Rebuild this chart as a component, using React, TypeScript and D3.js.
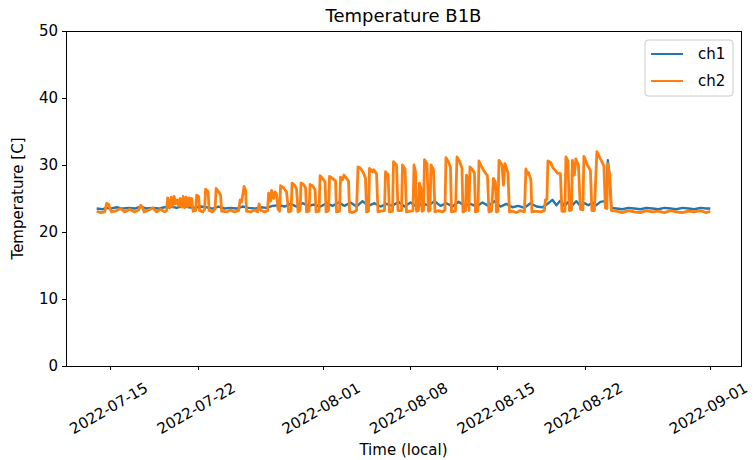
import React from 'react';
import * as d3 from 'd3';

const W = 756;
const H = 460;
const MARGIN = { top: 31, right: 15, bottom: 94, left: 66 };

// days since 2022-07-15 00:00 (local), temperature in C
const START = new Date(2022, 6, 15);

const ch1: [number, number][] = [
  [-1.12, 23.5], [-0.64, 23.4], [-0.32, 23.6], [0, 23.5], [0.48, 23.7], [0.96, 23.5], [1.44, 23.6],
  [1.92, 23.5], [2.4, 23.8], [2.88, 23.5], [3.36, 23.6], [3.84, 23.5], [4.32, 23.7], [4.8, 23.8],
  [5.28, 23.6], [5.76, 23.9], [6.24, 23.7], [6.72, 23.6], [7.2, 23.8], [7.68, 23.7], [8.16, 23.5],
  [8.64, 23.8], [9.12, 23.5], [9.6, 23.6], [10.08, 23.5], [10.56, 23.8], [11.04, 23.6], [11.52, 23.5],
  [12.0, 23.7], [12.48, 23.6], [12.96, 23.9], [13.44, 24.0], [13.92, 23.8], [14.4, 24.2], [14.88, 23.8],
  [15.36, 24.3], [15.84, 23.9], [16.32, 24.1], [16.8, 23.8], [17.28, 24.3], [17.76, 23.9], [18.24, 24.4],
  [18.72, 23.9], [19.2, 24.4], [19.68, 23.8], [20.16, 24.6], [20.64, 23.9], [21.12, 24.3], [21.6, 23.8],
  [22.08, 24.2], [22.56, 23.9], [23.04, 24.5], [23.52, 23.8], [24.0, 24.4], [24.48, 23.8], [24.96, 24.2],
  [25.44, 24.0], [25.92, 24.6], [26.4, 23.9], [26.88, 24.3], [27.36, 23.8], [27.84, 24.5], [28.32, 23.9],
  [28.8, 24.2], [29.28, 23.8], [29.76, 24.4], [30.24, 23.9], [30.72, 24.6], [31.2, 23.8], [31.68, 24.2],
  [32.16, 23.7], [32.64, 23.9], [33.12, 23.6], [33.6, 24.3], [34.08, 23.8], [34.56, 23.7], [35.04, 24.3],
  [35.36, 24.8], [35.68, 24.0], [36.0, 24.7], [36.32, 23.9], [36.64, 24.5], [36.96, 24.0], [37.28, 24.6],
  [37.6, 23.9], [37.92, 24.3], [38.24, 24.0], [38.56, 24.4], [38.88, 24.0], [39.2, 24.5], [39.56, 24.6],
  [39.68, 26.0], [39.8, 30.7], [39.92, 28.0], [40.08, 23.6], [40.48, 23.5], [40.96, 23.4], [41.44, 23.6],
  [41.92, 23.5], [42.4, 23.4], [42.88, 23.6], [43.36, 23.5], [43.84, 23.4], [44.32, 23.6], [44.8, 23.5],
  [45.28, 23.4], [45.76, 23.6], [46.24, 23.5], [46.72, 23.4], [47.2, 23.6], [47.68, 23.5], [48.0, 23.5],
];

const ch2: [number, number][] = [
  [-1.12, 23.1], [-0.8, 22.9], [-0.48, 23.0], [-0.4, 23.6], [-0.32, 24.3], [-0.16, 24.1], [-0.04, 23.4],
  [0.08, 23.0], [0.48, 23.2], [0.8, 23.5], [1.12, 23.0], [1.52, 23.4], [1.92, 23.0], [2.24, 23.3],
  [2.4, 24.0], [2.56, 23.6], [2.68, 23.0], [3.04, 23.3], [3.36, 23.6], [3.68, 23.0], [4.0, 23.4],
  [4.32, 23.0], [4.48, 23.2], [4.56, 25.1], [4.72, 23.6], [4.84, 25.2], [4.96, 23.8], [5.08, 25.3],
  [5.2, 24.2], [5.32, 24.8], [5.44, 23.9], [5.56, 25.0], [5.68, 23.7], [5.8, 25.3], [5.92, 23.6],
  [6.04, 25.2], [6.16, 23.8], [6.28, 25.1], [6.4, 23.9], [6.48, 25.0], [6.6, 23.1], [6.8, 23.2],
  [6.88, 25.5], [7.04, 25.3], [7.12, 23.2], [7.36, 23.0], [7.52, 23.4], [7.6, 26.4], [7.8, 26.0],
  [7.88, 23.2], [8.16, 23.0], [8.36, 23.5], [8.44, 26.5], [8.64, 26.0], [8.8, 25.5], [8.88, 23.1],
  [9.28, 23.0], [9.6, 23.3], [9.92, 23.0], [10.24, 23.2], [10.36, 24.8], [10.48, 24.5], [10.68, 26.8],
  [10.8, 26.2], [10.88, 23.1], [11.2, 23.0], [11.52, 23.3], [11.76, 23.0], [11.88, 24.2], [12.0, 23.3],
  [12.32, 23.0], [12.56, 23.2], [12.64, 25.8], [12.8, 24.6], [12.88, 26.2], [13.04, 25.0], [13.16, 26.0],
  [13.28, 25.6], [13.4, 23.4], [13.52, 23.1], [13.6, 26.9], [13.84, 26.6], [14.08, 26.0], [14.24, 23.0],
  [14.44, 23.1], [14.52, 27.3], [14.72, 27.0], [14.88, 26.4], [15.0, 23.0], [15.16, 23.2], [15.24, 27.3],
  [15.44, 27.1], [15.6, 26.6], [15.68, 23.0], [15.88, 23.1], [15.96, 27.1], [16.16, 26.9], [16.36, 26.3],
  [16.44, 23.0], [16.68, 23.1], [16.76, 28.4], [16.96, 28.0], [17.16, 27.5], [17.24, 23.0], [17.44, 23.2],
  [17.52, 28.3], [17.76, 28.0], [18.0, 27.6], [18.08, 23.0], [18.32, 23.1], [18.4, 28.2], [18.56, 27.8],
  [18.68, 28.5], [19.04, 27.6], [19.12, 23.0], [19.36, 22.9], [19.68, 23.2], [19.8, 29.7], [20.0, 29.5],
  [20.24, 28.8], [20.4, 28.0], [20.48, 23.0], [20.64, 23.1], [20.72, 29.5], [20.96, 29.0], [21.04, 29.3],
  [21.28, 28.7], [21.4, 23.0], [21.6, 23.1], [21.92, 23.2], [22.0, 29.0], [22.2, 28.6], [22.32, 23.0],
  [22.56, 23.1], [22.64, 30.5], [22.88, 30.0], [23.0, 23.2], [23.28, 23.2], [23.36, 30.0], [23.56, 29.4],
  [23.68, 23.0], [24.0, 23.1], [24.2, 23.2], [24.28, 30.0], [24.4, 29.0], [24.48, 23.1], [24.64, 23.2],
  [24.72, 27.3], [24.84, 26.5], [24.92, 23.1], [25.04, 23.2], [25.12, 30.8], [25.32, 30.2], [25.44, 23.1],
  [25.56, 23.2], [25.64, 30.0], [25.84, 29.3], [25.96, 23.0], [26.24, 23.2], [26.56, 23.0], [26.76, 23.3],
  [26.84, 31.1], [27.04, 30.5], [27.2, 29.6], [27.28, 23.0], [27.6, 23.1], [27.72, 31.2], [27.92, 30.6],
  [28.12, 29.5], [28.2, 23.0], [28.4, 23.2], [28.48, 28.5], [28.6, 28.0], [28.68, 23.2], [28.76, 29.7],
  [28.96, 29.3], [29.12, 28.8], [29.2, 23.0], [29.4, 23.1], [29.48, 30.6], [29.68, 29.8], [29.92, 29.0],
  [30.16, 28.4], [30.28, 23.0], [30.48, 23.1], [30.64, 28.0], [30.8, 27.4], [30.88, 23.0], [31.0, 23.1],
  [31.08, 30.7], [31.32, 30.0], [31.44, 27.0], [31.56, 30.2], [31.8, 28.8], [31.92, 23.0], [32.16, 23.1],
  [32.48, 22.9], [32.8, 23.2], [33.12, 23.0], [33.24, 29.4], [33.36, 28.6], [33.44, 28.9], [33.64, 27.8],
  [33.72, 23.0], [34.0, 23.1], [34.4, 23.0], [34.72, 23.2], [34.8, 24.8], [34.92, 24.9], [35.0, 30.6],
  [35.2, 30.4], [35.4, 29.6], [35.6, 29.2], [35.76, 28.8], [36.0, 28.7], [36.12, 23.1], [36.36, 23.1],
  [36.44, 31.2], [36.6, 30.6], [36.72, 23.2], [36.88, 23.3], [36.96, 30.7], [37.12, 28.5], [37.24, 30.9],
  [37.44, 30.0], [37.6, 23.4], [37.8, 23.3], [37.88, 31.3], [38.16, 30.0], [38.4, 29.2], [38.52, 23.2],
  [38.72, 23.2], [38.92, 32.0], [39.2, 30.9], [39.48, 29.9], [39.6, 23.6], [39.72, 23.5], [39.8, 30.2],
  [39.96, 28.5], [40.08, 23.2], [40.48, 23.1], [40.96, 22.9], [41.44, 23.2], [41.92, 23.0], [42.4, 22.9],
  [42.88, 23.2], [43.36, 23.0], [43.84, 23.1], [44.32, 22.9], [44.8, 23.2], [45.28, 23.0], [45.76, 22.9],
  [46.24, 23.1], [46.72, 23.0], [47.2, 23.2], [47.68, 22.9], [48.0, 23.1],
];

const xTickLabels = ['2022-07-15', '2022-07-22', '2022-08-01', '2022-08-08', '2022-08-15', '2022-08-22', '2022-09-01'];
const yTicks = [0, 10, 20, 30, 40, 50];

const series = [
  { name: 'ch1', color: '#1f77b4', data: ch1, width: 2.4 },
  { name: 'ch2', color: '#ff7f0e', data: ch2, width: 2.8 },
];

const FONT = 'DejaVu Sans, sans-serif';

const toDate = (d: number) => new Date(START.getTime() + d * 864e5);
const parse = d3.timeParse('%Y-%m-%d');

export default function App() {
  const left = MARGIN.left;
  const right = W - MARGIN.right;
  const top = MARGIN.top;
  const bottom = H - MARGIN.bottom;

  // matplotlib-like 5% margins on x
  const ext = d3.extent([...ch1, ...ch2], d => toDate(d[0])) as [Date, Date];
  const span = ext[1].getTime() - ext[0].getTime();
  const x = d3.scaleTime()
    .domain([new Date(ext[0].getTime() - span * 0.05), new Date(ext[1].getTime() + span * 0.05)])
    .range([left, right]);
  const y = d3.scaleLinear().domain([0, 50]).range([bottom, top]);

  const line = d3.line<[number, number]>()
    .x(d => x(toDate(d[0])))
    .y(d => y(d[1]));

  return (
    <div style={{ position: 'absolute', left: 0, top: 0 }}>
      <svg width={W} height={H} style={{ display: 'block', background: '#fff' }} fontFamily={FONT}>
        {series.map(s => (
          <path key={s.name} d={line(s.data) || ''} fill="none" stroke={s.color}
            strokeWidth={s.width} strokeLinejoin="round" />
        ))}

        {/* frame */}
        <rect x={left} y={top} width={right - left} height={bottom - top}
          fill="none" stroke="#000" strokeWidth={1} shapeRendering="crispEdges" />

        {/* y axis */}
        {yTicks.map(t => (
          <g key={t} transform={`translate(0,${y(t)})`}>
            <line x1={left - 4} x2={left} stroke="#000" shapeRendering="crispEdges" />
            <text x={left - 8} dy="0.36em" textAnchor="end" fontSize={15} fill="#000">{t}</text>
          </g>
        ))}
        <text transform={`translate(23,${(top + bottom) / 2}) rotate(-90)`} textAnchor="middle"
          fontSize={15} fill="#000">Temperature [C]</text>

        {/* x axis */}
        {xTickLabels.map(lbl => {
          const xp = x(parse(lbl) as Date);
          return (
            <g key={lbl}>
              <line x1={xp} x2={xp} y1={bottom} y2={bottom + 4} stroke="#000" shapeRendering="crispEdges" />
              <text transform={`translate(${xp - 2},${bottom + 42}) rotate(-30)`} textAnchor="middle"
                dy="0.36em" fontSize={15} fill="#000">{lbl}</text>
            </g>
          );
        })}
        <text x={(left + right) / 2} y={H - 5} textAnchor="middle" fontSize={15} fill="#000">Time (local)</text>

        <text x={(left + right) / 2} y={22} textAnchor="middle" fontSize={18} fill="#000">Temperature B1B</text>

        {/* legend */}
        <g transform={`translate(${right - 96},${top + 9})`}>
          <rect width={88} height={56} rx={3} fill="#fff" fillOpacity={0.8} stroke="#cccccc" />
          {series.map((s, i) => (
            <g key={s.name} transform={`translate(0,${14 + i * 27})`}>
              <line x1={6} x2={38} stroke={s.color} strokeWidth={2} />
              <text x={53} dy="0.36em" fontSize={15} fill="#000">{s.name}</text>
            </g>
          ))}
        </g>
      </svg>
    </div>
  );
}
